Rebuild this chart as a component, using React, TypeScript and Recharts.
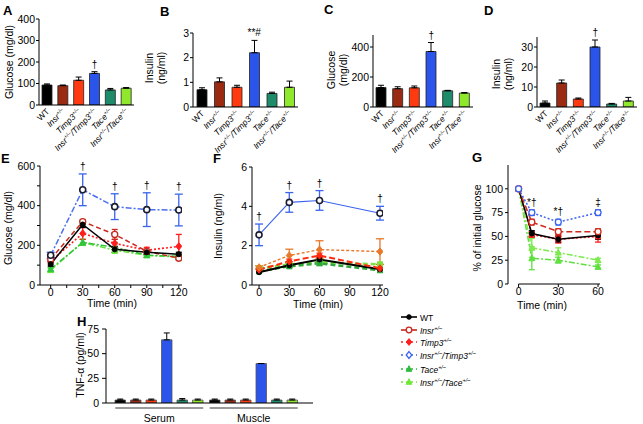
import React from "react";
import {
  Bar,
  BarChart,
  Cell,
  ErrorBar,
  Line,
  LineChart,
  ReferenceDot,
  ReferenceLine,
  XAxis,
  YAxis,
} from "recharts";

const FONT = "'Liberation Sans', Arial, Helvetica, sans-serif";

// genotypes, in plotting order
const GENOTYPES = ["WT", "Insr", "Timp3", "InsrTimp3", "Tace", "InsrTace"];
const SUP = "+/–";
const GENO_LABELS: [string, boolean][][] = [
  [["WT", false]],
  [["Insr", false], [SUP, true]],
  [["Timp3", false], [SUP, true]],
  [["Insr", false], [SUP, true], ["/Timp3", false], [SUP, true]],
  [["Tace", false], [SUP, true]],
  [["Insr", false], [SUP, true], ["/Tace", false], [SUP, true]],
];
const BAR_COLORS = ["#000000", "#9a2a12", "#ff3a10", "#2b55ea", "#1e8c6a", "#8fe82c"];
const LINE_COLORS = ["#000000", "#c8281e", "#ff1e1e", "#3a64f0", "#2dbb3c", "#6fe834"];
const LEGEND_DASH = ["", "", "2 3", "2 3", "2 3", "2 3"];
const LEGEND_MARKERS = ["dot", "ring", "diamond", "openDiamond", "triangle", "triangle"];

// A: fasting glucose (mg/dl)
const glucoseA = [93, 90, 115, 147, 70, 78];
const glucoseAErr = [5, 3, 15, 8, 7, 3];
const marksA = ["", "", "", "†", "", ""];

// B: fasting insulin (ng/ml)
const insulinB = [0.7, 1.02, 0.8, 2.2, 0.55, 0.8];
const insulinBErr = [0.08, 0.16, 0.08, 0.5, 0.05, 0.25];
const marksB = ["", "", "", "**#", "", ""];

// C: fed glucose (mg/dl)
const glucoseC = [130, 122, 128, 370, 108, 93];
const glucoseCErr = [15, 13, 12, 60, 3, 3];
const marksC = ["", "", "", "†", "", ""];

// D: fed insulin (ng/ml)
const insulinD = [2, 12, 4, 30, 1.5, 3];
const insulinDErr = [1, 1.5, 0.5, 3.5, 0.3, 1.8];
const marksD = ["", "", "", "†", "", ""];

// E: glucose tolerance
const timesE = [0, 30, 60, 90, 120];
const eWT = [105, 305, 180, 165, 155];
const eWTErr = [10, 15, 15, 10, 10];
const eInsr = [130, 320, 255, 170, 135];
const eInsrErr = [10, 10, 25, 10, 10];
const eTimp3 = [120, 260, 210, 175, 195];
const eTimp3Err = [10, 30, 20, 15, 60];
const eInsrTimp3 = [150, 480, 395, 380, 378];
const eInsrTimp3Err = [15, 80, 65, 85, 80];
const eTace = [80, 215, 190, 150, 145];
const eTaceErr = [8, 15, 25, 10, 10];
const eInsrTace = [75, 215, 175, 150, 140];
const eInsrTaceErr = [8, 15, 15, 10, 10];
const marksE = ["", "†", "†", "†", "†"];

// F: insulin during GTT
const timesF = [0, 30, 60, 120];
const fWT = [0.65, 1.0, 1.3, 0.8];
const fWTErr = [0.06, 0.08, 0.1, 0.08];
const fInsr = [0.9, 1.5, 1.8, 1.7];
const fInsrErr = [0.08, 0.32, 0.45, 0.65];
const fTimp3 = [0.78, 1.2, 1.5, 0.85];
const fTimp3Err = [0.08, 0.12, 0.12, 0.1];
const fInsrTimp3 = [2.55, 4.2, 4.3, 3.65];
const fInsrTimp3Err = [0.55, 0.5, 0.5, 0.35];
const fTace = [0.7, 0.95, 1.1, 0.75];
const fTaceErr = [0.08, 0.08, 0.1, 0.08];
const fInsrTace = [0.85, 1.05, 1.15, 1.05];
const fInsrTaceErr = [0.08, 0.08, 0.08, 0.08];
const marksF = ["†", "†", "†", "†"];

// G: insulin tolerance (% of initial glucose)
const timesG = [0, 10, 30, 60];
const gWT = [100, 53, 47, 51];
const gWTErr = [0, 3, 3, 4];
const gInsr = [100, 65, 55, 55];
const gInsrErr = [0, 3, 3, 3];
const gTimp3 = [100, 52, 47, 50];
const gTimp3Err = [0, 3, 4, 6];
const gInsrTimp3 = [100, 75, 65, 75];
const gInsrTimp3Err = [0, 3, 3, 3];
const gTace = [100, 38, 33, 25];
const gTaceErr = [0, 10, 5, 2];
const gInsrTace = [100, 27, 25, 18];
const gInsrTaceErr = [0, 12, 3, 2];
const marksG = ["", "*†", "*†", "‡"];

// H: TNF-alpha (pg/ml)
const TISSUES = ["Serum", "Muscle"];
const tnfSerum = [3, 3, 3, 64, 3, 3];
const tnfSerumErr = [1, 1, 1, 7, 1.5, 1];
const tnfMuscle = [3, 3, 3, 40, 3, 3];
const tnfMuscleErr = [1, 1, 1, 0, 1, 1];

function Marker({ cx, cy, kind, color, size = 3 }: any) {
  if (cx == null || cy == null) return <g />;
  const s = size;
  switch (kind) {
    case "ring":
      return <circle cx={cx} cy={cy} r={s} fill="#fff" stroke={color} strokeWidth={1.3} />;
    case "darkRing":
      return <circle cx={cx} cy={cy} r={s} fill="#fff" stroke="#1c1c30" strokeWidth={1.6} />;
    case "diamond":
      return (
        <polygon
          points={`${cx},${cy - s - 0.6} ${cx + s},${cy} ${cx},${cy + s + 0.6} ${cx - s},${cy}`}
          fill={color}
          stroke={color}
        />
      );
    case "openDiamond":
      return (
        <polygon
          points={`${cx},${cy - s - 0.6} ${cx + s},${cy} ${cx},${cy + s + 0.6} ${cx - s},${cy}`}
          fill="#fff"
          stroke={color}
          strokeWidth={1.3}
        />
      );
    case "triangle":
      return (
        <polygon
          points={`${cx},${cy - s - 0.5} ${cx + s},${cy + s - 0.5} ${cx - s},${cy + s - 0.5}`}
          fill={color}
          stroke={color}
        />
      );
    case "square":
      return <rect x={cx - s + 0.5} y={cy - s + 0.5} width={2 * s - 1} height={2 * s - 1} fill={color} stroke={color} />;
    default:
      return <circle cx={cx} cy={cy} r={s - 0.5} fill={color} stroke={color} />;
  }
}

function GenoText({ parts, size, supSize }: any) {
  const out: any[] = [];
  let up = false;
  parts.forEach(([t, sup]: [string, boolean], i: number) => {
    let dy = 0;
    if (sup && !up) {
      dy = -size * 0.38;
      up = true;
    } else if (!sup && up) {
      dy = size * 0.38;
      up = false;
    }
    out.push(
      <tspan key={i} dy={dy} fontSize={sup ? supSize : size}>
        {t}
      </tspan>
    );
  });
  return out;
}

function GenoTick(props: any) {
  const { x, y, payload } = props;
  const idx = GENOTYPES.indexOf(payload.value);
  const parts = GENO_LABELS[idx];
  return (
    <g transform={`translate(${x + 3},${y + 7})`}>
      <text
        transform="rotate(-45)"
        textAnchor="end"
        fontFamily={FONT}
        fontStyle={idx === 0 ? "normal" : "italic"}
        fill="#000"
      >
        <GenoText parts={parts} size={8.5} supSize={5.5} />
      </text>
    </g>
  );
}

function TissueTick(props: any) {
  const { x, y, payload } = props;
  return (
    <g>
      <line x1={x - 44} x2={x + 44} y1={y + 5} y2={y + 5} stroke="#000" strokeWidth={0.8} />
      <text x={x} y={y + 19} textAnchor="middle" fontFamily={FONT} fontSize={10.5} fill="#000">
        {payload.value}
      </text>
    </g>
  );
}

// label drawn just above a reference point
function markLabel(text: string) {
  return (p: any) => {
    const vb = p.viewBox || {};
    const cx = (vb.x || 0) + (vb.width || 0) / 2;
    const cy = vb.y || 0;
    return (
      <text x={cx} y={cy - 4} textAnchor="middle" fontFamily={FONT} fontSize={10} fill="#000">
        {text}
      </text>
    );
  };
}

const TICK = { fontSize: 10.5, fill: "#000", fontFamily: FONT };
const AXIS = { stroke: "#000", strokeWidth: 1 };

function GenoBarPanel({ box, margin, yWidth, xHeight, values, errors, marks, domain, ticks }: any) {
  const data = GENOTYPES.map((name, i) => ({ name, value: values[i], err: [0, errors[i]] }));
  return (
    <div style={{ position: "absolute", left: box[0], top: box[1] }}>
      <BarChart width={box[2]} height={box[3]} data={data} margin={margin}>
        <XAxis
          dataKey="name"
          interval={0}
          tickLine={false}
          tickSize={0}
          tickMargin={0}
          height={xHeight}
          axisLine={AXIS}
          tick={(p: any) => <GenoTick {...p} />}
        />
        <YAxis
          width={yWidth}
          domain={domain}
          ticks={ticks}
          allowDataOverflow
          tick={TICK}
          tickSize={3}
          tickMargin={1}
          axisLine={AXIS}
          tickLine={AXIS}
        />
        <Bar dataKey="value" barSize={10} stroke="#222" strokeWidth={0.8} isAnimationActive={false}>
          {data.map((d, i) => (
            <Cell key={d.name} fill={BAR_COLORS[i]} />
          ))}
          <ErrorBar dataKey="err" width={3} stroke="#000" strokeWidth={1} />
        </Bar>
        {marks.map((m: string, i: number) =>
          m ? (
            <ReferenceDot
              key={i}
              x={GENOTYPES[i]}
              y={values[i] + errors[i]}
              r={0}
              fill="none"
              stroke="none"
              ifOverflow="visible"
              label={markLabel(m)}
            />
          ) : null
        )}
      </BarChart>
    </div>
  );
}

function TimePanel({ box, margin, yWidth, times, series, xDomain, xTicks, yDomain, yTicks, xMajor, yMajor, marks, markKey, xLineTo }: any) {
  const data = times.map((t: number, j: number) => {
    const row: any = { t };
    series.forEach((s: any) => {
      row[s.key] = s.values[j];
      row[s.key + "Err"] = s.errors[j];
    });
    return row;
  });
  const markSeries = series.find((s: any) => s.key === markKey);
  return (
    <div style={{ position: "absolute", left: box[0], top: box[1] }}>
      <LineChart width={box[2]} height={box[3]} data={data} margin={margin}>
        <XAxis
          dataKey="t"
          type="number"
          domain={xDomain}
          ticks={xTicks}
          allowDataOverflow
          interval={0}
          tick={TICK}
          tickSize={3}
          tickMargin={1}
          height={margin.xh}
          axisLine={xLineTo == null ? AXIS : false}
          tickLine={AXIS}
          tickFormatter={(v: number) => (v % xMajor === 0 ? String(v) : "")}
        />
        <YAxis
          width={yWidth}
          domain={yDomain}
          ticks={yTicks}
          allowDataOverflow
          interval={0}
          tick={TICK}
          tickSize={3}
          tickMargin={2}
          axisLine={AXIS}
          tickLine={AXIS}
          tickFormatter={(v: number) => (Math.abs(v % yMajor) < 1e-9 ? String(v) : "")}
        />
        {xLineTo != null ? (
          <ReferenceLine
            segment={[
              { x: 0, y: yDomain[0] },
              { x: xLineTo, y: yDomain[0] },
            ]}
            stroke="#000"
            strokeWidth={1}
          />
        ) : null}
        {series.map((s: any) => (
          <Line
            key={s.key}
            dataKey={s.key}
            type="linear"
            stroke={s.color}
            strokeWidth={s.width}
            strokeDasharray={s.dash}
            isAnimationActive={false}
            activeDot={false}
            dot={(p: any) => (
              <Marker key={`${s.key}-${p.index}`} cx={p.cx} cy={p.cy} kind={s.marker} color={s.markerColor || s.color} size={s.size || 3} />
            )}
          >
            <ErrorBar dataKey={s.key + "Err"} width={s.cap} stroke={s.errColor || s.color} strokeWidth={1.3} direction="y" />
          </Line>
        ))}
        {marks.map((m: string, j: number) =>
          m ? (
            <ReferenceDot
              key={j}
              x={times[j]}
              y={markSeries.values[j] + markSeries.errors[j]}
              r={0}
              fill="none"
              stroke="none"
              ifOverflow="visible"
              label={markLabel(m)}
            />
          ) : null
        )}
      </LineChart>
    </div>
  );
}

const seriesE = [
  { key: "insrTace", values: eInsrTace, errors: eInsrTaceErr, color: "#66e63a", dash: "6 2 2 2", marker: "triangle", width: 1.5, cap: 3 },
  { key: "tace", values: eTace, errors: eTaceErr, color: "#33c43f", dash: "6 2 2 2", marker: "triangle", width: 1.5, cap: 3 },
  { key: "timp3", values: eTimp3, errors: eTimp3Err, color: "#ff1e1e", dash: "2 2", marker: "diamond", width: 1.6, cap: 3 },
  { key: "insr", values: eInsr, errors: eInsrErr, color: "#c8281e", dash: "5 3", marker: "ring", width: 1.5, cap: 3 },
  { key: "wt", values: eWT, errors: eWTErr, color: "#000", dash: "", marker: "dot", width: 1.5, cap: 3 },
  { key: "insrTimp3", values: eInsrTimp3, errors: eInsrTimp3Err, color: "#4a6ff0", dash: "6 2 2 2", marker: "darkRing", width: 1.5, cap: 4, errColor: "#3a64f0" },
];

const seriesF = [
  { key: "insrTace", values: fInsrTace, errors: fInsrTaceErr, color: "#7be040", dash: "5 3", marker: "square", width: 2.5, cap: 3 },
  { key: "tace", values: fTace, errors: fTaceErr, color: "#2fa83a", dash: "5 3", marker: "square", width: 2.5, cap: 3 },
  { key: "wt", values: fWT, errors: fWTErr, color: "#000", dash: "", marker: "dot", width: 2, cap: 3 },
  { key: "timp3", values: fTimp3, errors: fTimp3Err, color: "#ff2a10", dash: "6 3", marker: "diamond", width: 2, cap: 3 },
  { key: "insr", values: fInsr, errors: fInsrErr, color: "#e8782a", dash: "3 2", marker: "diamond", width: 1.4, cap: 4 },
  { key: "insrTimp3", values: fInsrTimp3, errors: fInsrTimp3Err, color: "#3a64f0", dash: "", marker: "darkRing", width: 1.1, cap: 4 },
];

const seriesG = [
  { key: "insrTace", values: gInsrTace, errors: gInsrTaceErr, color: "#5fe040", dash: "6 2 2 2", marker: "triangle", width: 1.5, cap: 3 },
  { key: "tace", values: gTace, errors: gTaceErr, color: "#7eea50", dash: "6 2 2 2", marker: "triangle", width: 1.5, cap: 3 },
  { key: "timp3", values: gTimp3, errors: gTimp3Err, color: "#ff1e1e", dash: "2 2", marker: "square", width: 1.6, cap: 3 },
  { key: "wt", values: gWT, errors: gWTErr, color: "#000", dash: "", marker: "dot", width: 1.5, cap: 3 },
  { key: "insr", values: gInsr, errors: gInsrErr, color: "#d02a1e", dash: "6 3", marker: "ring", width: 1.5, cap: 3 },
  { key: "insrTimp3", values: gInsrTimp3, errors: gInsrTimp3Err, color: "#3a64f0", dash: "2 2", marker: "ring", width: 1.5, cap: 3 },
];

function TnfPanel() {
  const data = TISSUES.map((tissue, k) => {
    const vals = k === 0 ? tnfSerum : tnfMuscle;
    const errs = k === 0 ? tnfSerumErr : tnfMuscleErr;
    const row: any = { tissue };
    GENOTYPES.forEach((g, i) => {
      row[g] = vals[i];
      row[g + "Err"] = [0, errs[i]];
    });
    return row;
  });
  return (
    <div style={{ position: "absolute", left: 0, top: 300 }}>
      <BarChart
        width={330}
        height={124}
        data={data}
        margin={{ top: 29, right: 17, bottom: 0, left: 60 }}
        barGap={5}
        barCategoryGap={3}
      >
        <XAxis
          dataKey="tissue"
          interval={0}
          tickLine={false}
          tickSize={0}
          tickMargin={0}
          height={21}
          padding={{ left: 6, right: 12 }}
          axisLine={AXIS}
          tick={(p: any) => <TissueTick {...p} />}
        />
        <YAxis
          width={46}
          domain={[0, 75]}
          ticks={[0, 25, 50, 75]}
          allowDataOverflow
          tick={TICK}
          tickSize={4}
          tickMargin={3}
          axisLine={AXIS}
          tickLine={AXIS}
        />
        {GENOTYPES.map((g, i) => (
          <Bar key={g} dataKey={g} fill={BAR_COLORS[i]} stroke="#555" strokeWidth={0.8} barSize={10.5} isAnimationActive={false}>
            <ErrorBar dataKey={g + "Err"} width={3} stroke="#000" strokeWidth={1} />
          </Bar>
        ))}
      </BarChart>
    </div>
  );
}

function VText({ x, y, children }: any) {
  return (
    <text
      transform={`translate(${x},${y}) rotate(-90)`}
      textAnchor="middle"
      fontFamily={FONT}
      fontSize={10.5}
      fill="#000"
    >
      {children}
    </text>
  );
}

function Overlay() {
  const letters: [string, number, number][] = [
    ["A", 3, 15],
    ["B", 160, 16],
    ["C", 324, 14],
    ["D", 484, 15],
    ["E", 1, 163],
    ["F", 213, 163],
    ["G", 472, 162],
    ["H", 77, 326],
  ];
  const legendY = [317, 330, 342, 355, 369, 382];
  return (
    <svg width={643} height={424} style={{ position: "absolute", left: 0, top: 0, pointerEvents: "none" }}>
      {letters.map(([t, x, y]) => (
        <text key={t} x={x} y={y} fontFamily={FONT} fontWeight="bold" fontSize={13} fill="#000">
          {t}
        </text>
      ))}
      <VText x={13} y={62}>Glucose (mg/dl)</VText>
      <VText x={153} y={68}>Insulin</VText>
      <VText x={165} y={68}>(ng/ml)</VText>
      <VText x={335} y={70}>Glucose</VText>
      <VText x={347} y={70}>(mg/dl)</VText>
      <VText x={500} y={74}>Insulin</VText>
      <VText x={512} y={74}>(ng/ml)</VText>
      <VText x={12} y={228}>Glucose (mg/dl)</VText>
      <VText x={222} y={226}>Insulin (ng/ml)</VText>
      <VText x={481} y={228}>% of initial glucose</VText>
      <VText x={84} y={365}>TNF-α (pg/ml)</VText>
      {[
        [112, 307],
        [318, 308],
        [542, 309],
      ].map(([x, y], i) => (
        <text key={i} x={x} y={y} textAnchor="middle" fontFamily={FONT} fontSize={10.5} fill="#000">
          Time (min)
        </text>
      ))}
      {GENOTYPES.map((g, i) => (
        <g key={g}>
          <line
            x1={401}
            x2={417}
            y1={legendY[i]}
            y2={legendY[i]}
            stroke={LINE_COLORS[i]}
            strokeWidth={1.6}
            strokeDasharray={LEGEND_DASH[i]}
          />
          <Marker cx={409} cy={legendY[i]} kind={LEGEND_MARKERS[i]} color={LINE_COLORS[i]} size={2.8} />
          <text
            x={420}
            y={legendY[i] + 3.5}
            fontFamily={FONT}
            fontSize={8.5}
            fontStyle={i === 0 ? "normal" : "italic"}
            fill="#000"
          >
            <GenoText parts={GENO_LABELS[i]} size={8.5} supSize={5.5} />
          </text>
        </g>
      ))}
    </svg>
  );
}

export default function App() {
  return (
    <div style={{ position: "absolute", left: 0, top: 0, width: 643, height: 424, background: "#fff", fontFamily: FONT }}>
      <GenoBarPanel
        box={[0, 0, 140, 165]}
        margin={{ top: 19, right: 6, bottom: 0, left: 0 }}
        yWidth={39}
        xHeight={60}
        values={glucoseA}
        errors={glucoseAErr}
        marks={marksA}
        domain={[0, 400]}
        ticks={[0, 100, 200, 300, 400]}
      />
      <GenoBarPanel
        box={[150, 0, 160, 165]}
        margin={{ top: 33, right: 12, bottom: 0, left: 0 }}
        yWidth={43}
        xHeight={58}
        values={insulinB}
        errors={insulinBErr}
        marks={marksB}
        domain={[0, 3]}
        ticks={[0, 1, 2, 3]}
      />
      <GenoBarPanel
        box={[320, 0, 160, 165]}
        margin={{ top: 35, right: 7, bottom: 0, left: 0 }}
        yWidth={53}
        xHeight={58}
        values={glucoseC}
        errors={glucoseCErr}
        marks={marksC}
        domain={[0, 480]}
        ticks={[0, 100, 200, 300, 400]}
      />
      <GenoBarPanel
        box={[480, 0, 163, 165]}
        margin={{ top: 37, right: 6, bottom: 0, left: 0 }}
        yWidth={57}
        xHeight={58}
        values={insulinD}
        errors={insulinDErr}
        marks={marksD}
        domain={[0, 35]}
        ticks={[0, 10, 20, 30]}
      />
      <TimePanel
        box={[0, 150, 200, 150]}
        margin={{ top: 16, right: 18, bottom: 0, left: 0, xh: 15 }}
        yWidth={40}
        times={timesE}
        series={seriesE}
        xDomain={[-10, 123]}
        xTicks={[0, 15, 30, 45, 60, 75, 90, 105, 120]}
        xMajor={30}
        yDomain={[0, 600]}
        yTicks={[0, 100, 200, 300, 400, 500, 600]}
        yMajor={200}
        marks={marksE}
        markKey="insrTimp3"
      />
      <TimePanel
        box={[220, 150, 180, 150]}
        margin={{ top: 17, right: 17, bottom: 0, left: 0, xh: 15 }}
        yWidth={32}
        times={timesF}
        series={seriesF}
        xDomain={[-7, 123]}
        xTicks={[0, 30, 60, 90, 120]}
        xMajor={30}
        yDomain={[0, 6]}
        yTicks={[0, 2, 4, 6]}
        yMajor={2}
        marks={marksF}
        markKey="insrTimp3"
      />
      <TimePanel
        box={[440, 150, 180, 150]}
        margin={{ top: 15, right: 18, bottom: 0, left: 0, xh: 16 }}
        yWidth={68}
        times={timesG}
        series={seriesG}
        xDomain={[-8, 63]}
        xTicks={[0, 30, 60]}
        xMajor={30}
        yDomain={[0, 125]}
        yTicks={[0, 25, 50, 75, 100]}
        yMajor={25}
        marks={marksG}
        markKey="insrTimp3"
        xLineTo={61.5}
      />
      <TnfPanel />
      <Overlay />
    </div>
  );
}
